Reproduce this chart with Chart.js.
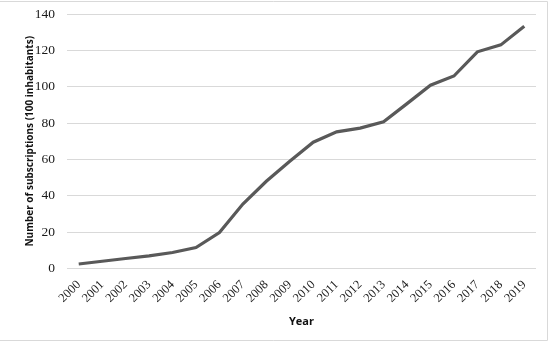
<!DOCTYPE html>
<html>
<head>
<meta charset="utf-8">
<script src="https://cdn.jsdelivr.net/npm/chart.js@4"></script>
<style>
html,body{margin:0;padding:0;background:#fff;}
#wrap{position:relative;width:550px;height:343px;}
</style>
</head>
<body>
<div id="wrap"><canvas id="c" width="550" height="343"></canvas></div>
<script>
const years = ['2000','2001','2002','2003','2004','2005','2006','2007','2008','2009','2010','2011','2012','2013','2014','2015','2016','2017','2018','2019'];
const subscriptions = [2.5, 4, 5.5, 7, 8.8, 11.5, 19.8, 35.5, 48, 59, 69.5, 75.2, 77.2, 80.7, 90.7, 100.8, 105.9, 119.2, 123, 133.2];
const yTicks = [0, 20, 40, 60, 80, 100, 120, 140];

const borderPlugin = {
  id: 'frame',
  afterDraw(chart) {
    const ctx = chart.ctx;
    ctx.save();
    ctx.strokeStyle = '#d9d9d9';
    ctx.lineWidth = 1;
    ctx.beginPath();
    ctx.moveTo(0, 1.5); ctx.lineTo(547.5, 1.5); ctx.lineTo(547.5, 340.5); ctx.lineTo(0, 340.5);
    ctx.stroke();
    ctx.restore();
  }
};

new Chart(document.getElementById('c'), {
  type: 'line',
  data: {
    labels: years,
    datasets: [{
      data: subscriptions,
      borderColor: '#595959',
      borderWidth: 3.2,
      pointRadius: 0,
      tension: 0,
      fill: false
    }]
  },
  options: {
    responsive: false,
    animation: false,
    layout: { padding: { top: 1, right: 14, bottom: 15, left: 0 } },
    plugins: { legend: { display: false }, tooltip: { enabled: false } },
    scales: {
      x: {
        offset: true,
        afterFit(scale) { scale.paddingLeft = 0; scale.paddingRight = 0; },
        grid: { display: false, drawTicks: false },
        border: { display: false },
        ticks: {
          autoSkip: false,
          minRotation: 45, maxRotation: 45,
          color: '#1a1a1a',
          font: { family: 'Liberation Serif', size: 12.5 },
          padding: 9
        },
        title: {
          display: true, text: 'Year', color: '#111',
          font: { family: 'Open Sans', size: 11, weight: 'bold' },
          padding: { top: 0, bottom: 0 }
        }
      },
      y: {
        min: 0, max: 140,
        afterBuildTicks(scale) { scale.ticks = yTicks.map(v => ({ value: v })); },
        afterFit(scale) { scale.width = 67; scale.paddingTop = 14; },
        grid: { color: '#d9d9d9', lineWidth: 1, drawTicks: false },
        border: { display: false },
        ticks: {
          color: '#1a1a1a',
          font: { family: 'Liberation Serif', size: 13.5 },
          padding: 12
        },
        title: {
          display: true, text: 'Number of subscriptions (100 inhabitants)', color: '#111',
          font: { family: 'Open Sans', size: 10, weight: 'bold' },
          padding: { top: 24, bottom: 0 }
        }
      }
    }
  },
  plugins: [borderPlugin]
});
</script>
</body>
</html>
